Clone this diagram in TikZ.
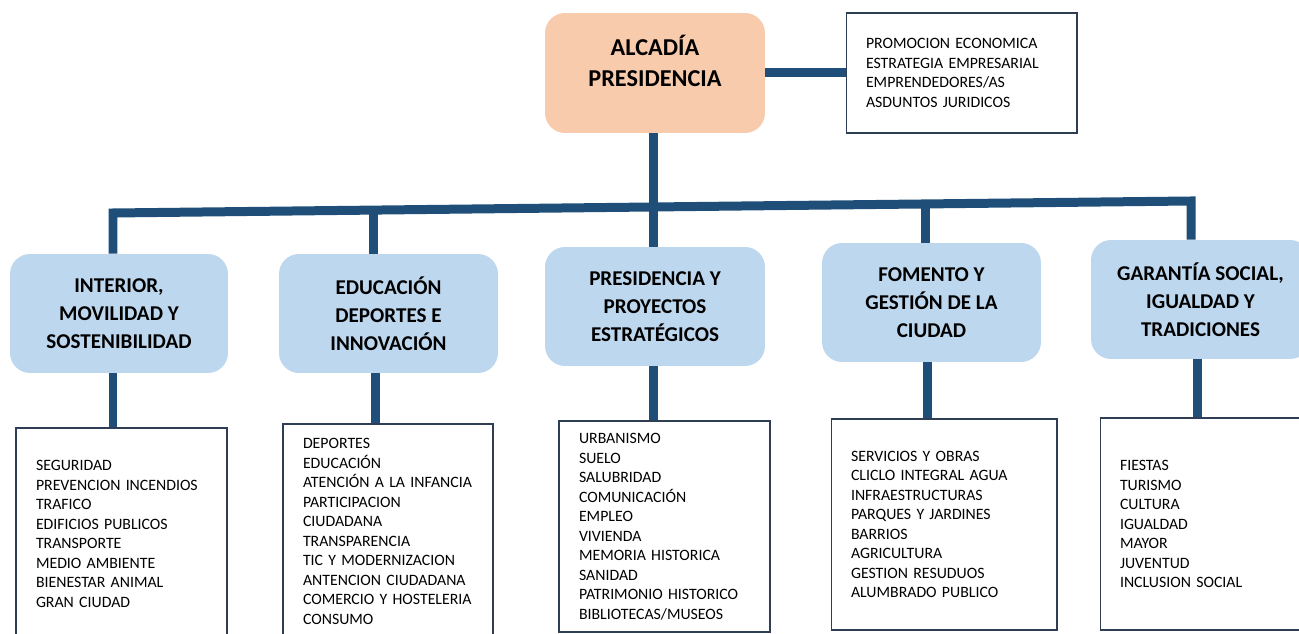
\documentclass[tikz,border=0pt]{standalone}
\usepackage{fontspec}
\setmainfont{Carlito}
\definecolor{peach}{HTML}{F8CBAD}
\definecolor{paleblue}{HTML}{BDD7EE}
\definecolor{linkblue}{HTML}{1F4E79}
\definecolor{slate}{HTML}{2F3E55}
\begin{document}
\begin{tikzpicture}[x=0.02cm,y=-0.02cm,
    rootbox/.style={fill=peach,rounded corners=0.4cm,minimum width=4.4cm,minimum height=2.4cm},
    areabox/.style={fill=paleblue,rounded corners=0.4cm,minimum width=4.38cm,minimum height=2.38cm,
        align=center,font=\fontsize{12}{15.9}\selectfont\bfseries},
    listbox/.style={draw=slate,line width=0.6pt,inner xsep=0.4cm,inner ysep=0pt,align=left,
        font=\fontsize{9}{11.1}\selectfont},
    link/.style={draw=linkblue,line width=0.18cm}]
    \useasboundingbox (0,0) rectangle (1299,634);
    \clip (0,0) rectangle (1299,634);

    \node[rootbox] (alcaldia) at (655,73) {};
    \node[align=center,font=\fontsize{13.8}{17.6}\selectfont\bfseries] (alcaldiatxt) at (655,61) {ALCADÍA\\PRESIDENCIA};
    \node[listbox,text width=3.82cm,minimum height=2.4cm] (promocion) at (961.5,73)
        {PROMOCION ECONOMICA\\ESTRATEGIA EMPRESARIAL\\EMPRENDEDORES/AS\\ASDUNTOS JURIDICOS};

    \node[areabox,minimum width=4.36cm] (interior) at (119,313.5) {INTERIOR,\\MOVILIDAD Y\\SOSTENIBILIDAD};
    \node[areabox] (educacion) at (388.5,313.5) {EDUCACIÓN\\DEPORTES E\\INNOVACIÓN};
    \node[areabox,minimum width=4.4cm] (presidencia) at (655,306.5) {PRESIDENCIA Y\\PROYECTOS\\ESTRATÉGICOS};
    \node[areabox] (fomento) at (931.5,302.5) {FOMENTO Y\\GESTIÓN DE LA\\CIUDAD};
    \node[areabox] (garantia) at (1200.5,299.5) {GARANTÍA SOCIAL,\\IGUALDAD Y\\TRADICIONES};

    \node[listbox,text width=3.42cm,minimum height=4.24cm] (linterior) at (121.5,534)
        {SEGURIDAD\\PREVENCION INCENDIOS\\TRAFICO\\EDIFICIOS PUBLICOS\\TRANSPORTE\\MEDIO AMBIENTE\\BIENESTAR ANIMAL\\GRAN CIUDAD};
    \node[listbox,text width=3.4cm,minimum height=4.3cm] (leducacion) at (388,531.5)
        {DEPORTES\\EDUCACIÓN\\ATENCIÓN A LA INFANCIA\\PARTICIPACION\\CIUDADANA\\TRANSPARENCIA\\TIC Y MODERNIZACION\\ANTENCION CIUDADANA\\COMERCIO Y HOSTELERIA\\CONSUMO};
    \node[listbox,text width=3.42cm,minimum height=4.22cm] (lpresidencia) at (664.5,526.5)
        {URBANISMO\\SUELO\\SALUBRIDAD\\COMUNICACIÓN\\EMPLEO\\VIVIENDA\\MEMORIA HISTORICA\\SANIDAD\\PATRIMONIO HISTORICO\\BIBLIOTECAS/MUSEOS};
    \node[listbox,text width=3.72cm,minimum height=4.22cm] (lfomento) at (944,524.5)
        {SERVICIOS Y OBRAS\\CLICLO INTEGRAL AGUA\\INFRAESTRUCTURAS\\PARQUES Y JARDINES\\BARRIOS\\AGRICULTURA\\GESTION RESUDUOS\\ALUMBRADO PUBLICO};
    \node[listbox,text width=3.42cm,minimum height=4.24cm] (lgarantia) at (1205.5,524)
        {FIESTAS\\TURISMO\\CULTURA\\IGUALDAD\\MAYOR\\JUVENTUD\\INCLUSION SOCIAL};

    \coordinate (j1) at (113,213);
    \coordinate (j2) at (373,210);
    \coordinate (j4) at (925,204);
    \coordinate (j5) at (1191,201);

    \draw[link] (alcaldia.east) -- (promocion.west);
    \draw[link] (alcaldia.south -| 653,0) -- (presidencia.north -| 653,0);
    \draw[link,line join=miter] (interior.north -| j1) -- (j1) -- (j5) -- (garantia.north -| j5);
    \draw[link] (j2) -- (educacion.north -| j2);
    \draw[link] (j4) -- (fomento.north -| j4);
    \foreach \a/\x in {interior/113,educacion/375,presidencia/653,fomento/927,garantia/1197} {
        \draw[link] (\a.south -| \x,0) -- (l\a.north -| \x,0);
    }
\end{tikzpicture}
\end{document}
